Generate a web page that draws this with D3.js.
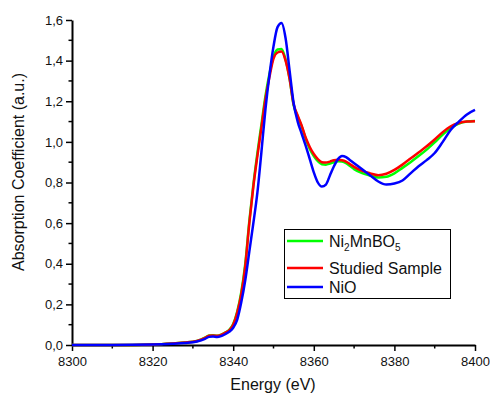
<!DOCTYPE html>
<html><head><meta charset="utf-8">
<script src="https://cdn.jsdelivr.net/npm/d3@7"></script>
<style>
html,body{margin:0;padding:0;background:#fff;}
svg{display:block;font-family:"Liberation Sans",Arial,sans-serif;}
</style></head>
<body>
<svg id="chart" width="490" height="394"></svg>
<script>
const energy = [8300,8310,8320,8325,8328,8331,8333,8334,8335,8336,8337,8338,8339,8340,8341,8342,8343,8344,8345,8346,8347,8348,8349,8350,8351,8352,8353,8354,8355,8356,8357,8358,8359,8360,8361,8362,8363,8364,8365,8366,8367,8368,8369,8370,8372,8374,8376,8378,8380,8382,8384,8386,8388,8390,8392,8394,8396,8398,8400];

const ni2mnbo5 = [0,0,0.003,0.008,0.012,0.02,0.036,0.047,0.048,0.046,0.051,0.061,0.074,0.103,0.165,0.26,0.40,0.61,0.79,0.945,1.085,1.225,1.335,1.42,1.455,1.457,1.405,1.31,1.18,1.125,1.075,1.015,0.965,0.93,0.905,0.89,0.888,0.893,0.9,0.905,0.903,0.895,0.881,0.866,0.846,0.834,0.825,0.828,0.845,0.872,0.9,0.93,0.962,0.998,1.036,1.068,1.09,1.1,1.103];

const studied = [0,0,0.003,0.008,0.012,0.02,0.035,0.046,0.047,0.045,0.05,0.06,0.072,0.1,0.16,0.25,0.39,0.6,0.78,0.93,1.07,1.21,1.32,1.41,1.44,1.445,1.4,1.31,1.185,1.13,1.08,1.02,0.975,0.94,0.915,0.9,0.898,0.903,0.91,0.912,0.91,0.903,0.89,0.877,0.857,0.845,0.836,0.843,0.862,0.888,0.918,0.948,0.978,1.012,1.048,1.077,1.093,1.1,1.102];

const nio = [0,0,0.002,0.006,0.01,0.017,0.03,0.04,0.042,0.04,0.044,0.053,0.065,0.085,0.125,0.21,0.32,0.46,0.6,0.75,0.95,1.16,1.33,1.47,1.565,1.585,1.51,1.35,1.19,1.1,1.04,0.98,0.915,0.85,0.8,0.78,0.79,0.835,0.88,0.915,0.93,0.925,0.91,0.895,0.865,0.835,0.805,0.79,0.795,0.81,0.845,0.88,0.91,0.945,1.0,1.06,1.1,1.135,1.157];

const seriesNames = ["Ni2MnBO5","Studied Sample","NiO"];
const seriesColors = ["#00ff00","#ff0000","#0000ff"];
const xTicks = [8300,8320,8340,8360,8380,8400];
const yTicks = [0,0.2,0.4,0.6,0.8,1.0,1.2,1.4,1.6];

const svg = d3.select("#chart");
const x = d3.scaleLinear().domain([8300,8400]).range([72,475]);
const y = d3.scaleLinear().domain([0,1.6]).range([345,20]);
const fmt = d => d3.format(".1f")(d).replace(".", ",");

// minor ticks
const xMinor = d3.range(8310,8400,20);
const yMinor = d3.range(0.1,1.6,0.2);
svg.append("g").selectAll("line").data(xMinor).join("line")
  .attr("x1",d=>x(d)).attr("x2",d=>x(d)).attr("y1",345).attr("y2",348.5)
  .attr("stroke","#000").attr("stroke-width",1.5);
svg.append("g").selectAll("line").data(yMinor).join("line")
  .attr("y1",d=>y(d)).attr("y2",d=>y(d)).attr("x1",72).attr("x2",68.5)
  .attr("stroke","#000").attr("stroke-width",1.5);

const xAxis = svg.append("g").attr("transform","translate(0,345)")
  .call(d3.axisBottom(x).tickValues(xTicks).tickSize(6).tickPadding(6).tickSizeOuter(0).tickFormat(d3.format("d")));
const yAxis = svg.append("g").attr("transform","translate(72,0)")
  .call(d3.axisLeft(y).tickValues(yTicks).tickSize(6).tickPadding(3).tickSizeOuter(0).tickFormat(fmt));
[xAxis,yAxis].forEach(a=>{
  a.select(".domain").attr("stroke","#000").attr("stroke-width",2);
  a.selectAll(".tick line").attr("stroke","#000").attr("stroke-width",1.5);
  a.selectAll(".tick text").attr("fill","#111").style("font-size","13px").style("font-family","'Liberation Sans',Arial,sans-serif");
});

const seriesData = [ni2mnbo5, studied, nio];
const line = d3.line().x((d,i)=>x(energy[i])).y(d=>y(d)).curve(d3.curveMonotoneX);
seriesData.forEach((s,k)=>{
  svg.append("path").datum(s).attr("d",line).attr("fill","none")
    .attr("stroke",seriesColors[k]).attr("stroke-width",2.5).attr("stroke-linejoin","round");
});

// axis titles
svg.append("text").attr("x",273).attr("y",390).attr("text-anchor","middle")
  .style("font-size","16px").attr("fill","#111").text("Energy (eV)");
svg.append("text").attr("transform","translate(24,172) rotate(-90)").attr("text-anchor","middle")
  .style("font-size","16px").attr("fill","#111").text("Absorption Coefficient (a.u.)");

// legend
const lg = svg.append("g");
lg.append("rect").attr("x",284.5).attr("y",229.5).attr("width",166).attr("height",69)
  .attr("fill","#fff").attr("stroke","#000").attr("stroke-width",1);
const rowsY = [241,268,287];
seriesNames.forEach((n,k)=>{
  lg.append("line").attr("x1",287).attr("x2",323).attr("y1",rowsY[k]).attr("y2",rowsY[k])
    .attr("stroke",seriesColors[k]).attr("stroke-width",2.5);
});
const t0 = lg.append("text").attr("x",329).attr("y",247).style("font-size","16px").attr("fill","#111");
t0.append("tspan").text("Ni");
t0.append("tspan").text("2").style("font-size","10px").attr("dy",4);
t0.append("tspan").text("MnBO").attr("dy",-4);
t0.append("tspan").text("5").style("font-size","10px").attr("dy",4);
lg.append("text").attr("x",329).attr("y",274).style("font-size","16px").attr("fill","#111").text(seriesNames[1]);
lg.append("text").attr("x",329).attr("y",293).style("font-size","16px").attr("fill","#111").text(seriesNames[2]);
</script>
</body></html>
